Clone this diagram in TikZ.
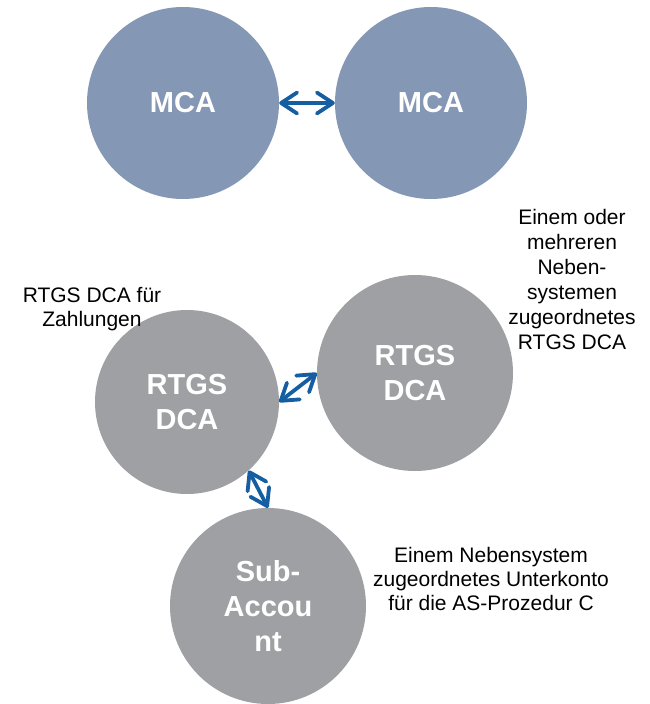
\documentclass[tikz,border=0pt]{standalone}
\usepackage{fontspec}
\setmainfont{Liberation Sans}
\usetikzlibrary{arrows.meta}
\definecolor{mcafill}{RGB}{132,151,181}
\definecolor{dcafill}{RGB}{158,160,163}
\definecolor{linkblue}{RGB}{22,94,162}
\begin{document}
\begin{tikzpicture}[x=1pt,y=-1pt,
  acct/.style={circle, inner sep=0pt, align=center, text=white,
    font=\fontsize{29}{35}\selectfont\bfseries},
  mca/.style={acct, fill=mcafill, minimum size=192pt},
  note/.style={align=center, inner sep=0pt, anchor=north,
    font=\fontsize{21}{24}\selectfont},
  barb/.tip={Straight Barb[length=16pt,width=21pt,round]},
  link/.style={draw=linkblue, line width=3.8pt, line cap=round, barb-barb}
]
\useasboundingbox (0,0) rectangle (650,704);

% central bank money accounts
\node[mca] (mcaA) at (183,103) {MCA};
\node[mca] (mcaB) at (431,103) {MCA};

% dedicated cash accounts and the sub-account
\node[acct, fill=dcafill, minimum size=184pt] (dcaPay) at (187,402) {RTGS\\DCA};
\node[acct, fill=dcafill, minimum size=196pt] (dcaAS) at (415,373) {RTGS\\DCA};
\node[acct, fill=dcafill, minimum size=196pt] (sub) at (268,606) {Sub-\\Accou\\nt};

% explanations
\node[note] (notePay) at (92,287) {RTGS DCA für\\Zahlungen};
\node[note, font=\fontsize{21}{25}\selectfont] (noteAS) at (572,209)
  {Einem oder\\mehreren\\Neben-\\systemen\\zugeordnetes\\RTGS DCA};
\node[note] (noteSub) at (491,547) {Einem Nebensystem\\zugeordnetes Unterkonto\\für die AS-Prozedur C};

% liquidity transfers
\draw[link] (mcaA) -- (mcaB);
\draw[link] (dcaPay.east) -- (dcaAS.west);
\draw[link] (dcaPay.-48) -- (sub.north);
\end{tikzpicture}
\end{document}
